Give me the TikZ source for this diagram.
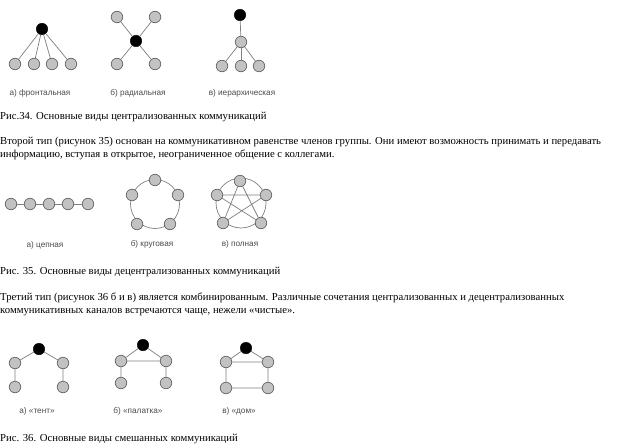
\documentclass[tikz,border=0pt]{standalone}
\usepackage{fontspec}
\setmainfont{Liberation Serif}
\newfontfamily\lblfont{Liberation Sans}
\begin{document}
\begin{tikzpicture}[x=1pt,y=-1pt,
  gnode/.style={circle, draw=black!60, fill=black!24, minimum size=11.5pt, inner sep=0pt, line width=0.7pt},
  bnode/.style={circle, draw=black, fill=black, minimum size=11.5pt, inner sep=0pt},
  edge/.style={draw=black!50, line width=0.7pt},
  lbl/.style={font=\lblfont\fontsize{8.2}{9}\selectfont, text=black!70, inner sep=0pt, anchor=base},
  txt/.style={font=\fontsize{10.7}{12}\selectfont, inner sep=0pt, anchor=base west}]
\useasboundingbox[fill=white] (0,0) rectangle (623,444);

% ---------- Fig 34 a: frontal
\node[bnode] (fa0) at (42,29) {};
\node[gnode] (fa1) at (15,64) {};
\node[gnode] (fa2) at (34,64) {};
\node[gnode] (fa3) at (52,64) {};
\node[gnode] (fa4) at (71,64) {};
\foreach \n in {fa1,fa2,fa3,fa4} \draw[edge] (fa0) -- (\n);
\node[lbl] (la) at (40,95) {а) фронтальная};

% ---------- Fig 34 b: radial
\node[bnode] (rb0) at (136,41) {};
\node[gnode] (rb1) at (117,17) {};
\node[gnode] (rb2) at (155,17) {};
\node[gnode] (rb3) at (117,64) {};
\node[gnode] (rb4) at (155,64) {};
\foreach \n in {rb1,rb2,rb3,rb4} \draw[edge] (rb0) -- (\n);
\node[lbl] (lb) at (138,95) {б) радиальная};

% ---------- Fig 34 c: hierarchical
\node[bnode] (hc0) at (240,15) {};
\node[gnode] (hc1) at (241,42) {};
\node[gnode] (hc2) at (222,66) {};
\node[gnode] (hc3) at (241,66) {};
\node[gnode] (hc4) at (259,66) {};
\draw[edge] (hc0) -- (hc1);
\foreach \n in {hc2,hc3,hc4} \draw[edge] (hc1) -- (\n);
\node[lbl] (lc) at (242,95) {в) иерархическая};

\node[txt] (cap34) at (0,119) {Рис.34. Основные виды централизованных коммуникаций};
\node[txt] (p1a) at (0,144) {Второй тип (рисунок 35) основан на коммуникативном равенстве членов группы. Они имеют возможность принимать и передавать};
\node[txt] (p1b) at (0,157) {информацию, вступая в открытое, неограниченное общение с коллегами.};

% ---------- Fig 35 a: chain
\node[gnode] (ca1) at (11,204) {};
\node[gnode] (ca2) at (30,204) {};
\node[gnode] (ca3) at (49,204) {};
\node[gnode] (ca4) at (68,204) {};
\node[gnode] (ca5) at (88,204) {};
\draw[edge] (ca1) -- (ca2) (ca2) -- (ca3) (ca3) -- (ca4) (ca4) -- (ca5);
\node[lbl] (l35a) at (45,247) {а) цепная};

% ---------- Fig 35 b: ring
\draw[edge] (155,204) circle (24.5);
\node[gnode] (cb1) at (155,180) {};
\node[gnode] (cb2) at (178,195) {};
\node[gnode] (cb3) at (170,224) {};
\node[gnode] (cb4) at (137,224) {};
\node[gnode] (cb5) at (132,195) {};
\node[lbl] (l35b) at (152,246) {б) круговая};

% ---------- Fig 35 c: full
\draw[edge] (241,203) circle (25);
\node[gnode] (cc1) at (240,181) {};
\node[gnode] (cc2) at (266,195) {};
\node[gnode] (cc3) at (261,223) {};
\node[gnode] (cc4) at (223,223) {};
\node[gnode] (cc5) at (217,195) {};
\draw[edge] (cc1) -- (cc3) (cc1) -- (cc4) (cc2) -- (cc4) (cc2) -- (cc5) (cc3) -- (cc5);
\node[lbl] (l35c) at (240,246) {в) полная};

\node[txt] (cap35) at (0,274) {Рис. 35. Основные виды децентрализованных коммуникаций};
\node[txt] (p2a) at (0,300) {Третий тип (рисунок 36 б и в) является комбинированным. Различные сочетания централизованных и децентрализованных};
\node[txt] (p2b) at (0,313) {коммуникативных каналов встречаются чаще, нежели «чистые».};

% ---------- Fig 36 a: tent
\node[bnode] (ta0) at (39,349) {};
\node[gnode] (ta1) at (15,363) {};
\node[gnode] (ta2) at (63,363) {};
\node[gnode] (ta3) at (15,387) {};
\node[gnode] (ta4) at (63,387) {};
\draw[edge] (ta0) -- (ta1) (ta0) -- (ta2) (ta1) -- (ta3) (ta2) -- (ta4);
\node[lbl] (l36a) at (37,413) {а) «тент»};

% ---------- Fig 36 b: palatka
\node[bnode] (pb0) at (143,345) {};
\node[gnode] (pb1) at (121,361) {};
\node[gnode] (pb2) at (166,361) {};
\node[gnode] (pb3) at (121,383) {};
\node[gnode] (pb4) at (166,383) {};
\draw[edge] (pb0) -- (pb1) (pb0) -- (pb2) (pb1) -- (pb2) (pb1) -- (pb3) (pb2) -- (pb4);
\node[lbl] (l36b) at (138,413) {б) «палатка»};

% ---------- Fig 36 c: dom
\node[bnode] (dc0) at (246,348) {};
\node[gnode] (dc1) at (226,362) {};
\node[gnode] (dc2) at (268,362) {};
\node[gnode] (dc3) at (226,388) {};
\node[gnode] (dc4) at (268,388) {};
\draw[edge] (dc0) -- (dc1) (dc0) -- (dc2) (dc1) -- (dc2) (dc1) -- (dc3) (dc2) -- (dc4) (dc3) -- (dc4);
\node[lbl] (l36c) at (239,413) {в) «дом»};

\node[txt] (cap36) at (0,441) {Рис. 36. Основные виды смешанных коммуникаций};
\end{tikzpicture}
\end{document}
